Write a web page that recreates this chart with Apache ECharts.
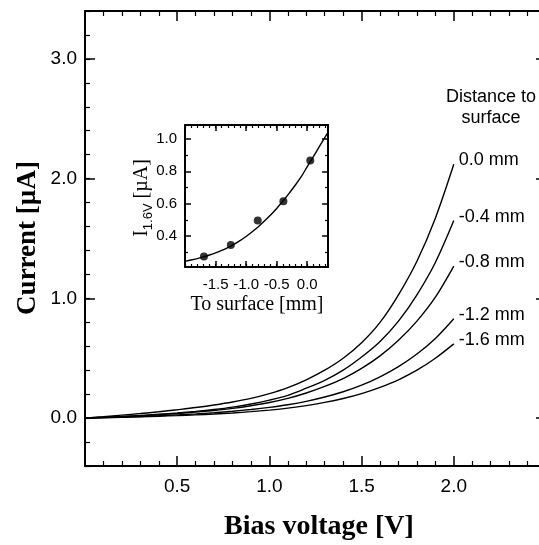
<!DOCTYPE html>
<html>
<head>
<meta charset="utf-8">
<script src="https://cdn.jsdelivr.net/npm/echarts@6/dist/echarts.min.js"></script>
<style>
html,body{margin:0;padding:0;background:#fff;}
#chart{width:539px;height:545px;}
</style>
</head>
<body>
<div id="chart"></div>
<script>
// ---- main plot data (current in µA vs bias voltage in V) ----
const voltage = [0,0.1,0.2,0.3,0.4,0.5,0.6,0.7,0.8,0.9,1.0,1.1,1.2,1.3,1.4,1.5,1.6,1.7,1.8,1.9,2.0];
const curve00 = [0,0.012,0.025,0.038,0.053,0.07,0.088,0.11,0.135,0.165,0.205,0.255,0.32,0.40,0.50,0.63,0.80,1.03,1.31,1.67,2.12];
const curve04 = [0,0.007,0.014,0.022,0.032,0.043,0.056,0.072,0.092,0.118,0.15,0.19,0.25,0.315,0.40,0.51,0.64,0.81,1.03,1.30,1.65];
const curve08 = [0,0.006,0.012,0.019,0.028,0.038,0.05,0.064,0.081,0.103,0.13,0.165,0.21,0.265,0.33,0.415,0.52,0.65,0.81,1.01,1.27];
const curve12 = [0,0.004,0.009,0.014,0.02,0.027,0.035,0.045,0.057,0.072,0.09,0.112,0.14,0.176,0.22,0.275,0.345,0.43,0.535,0.665,0.83];
const curve16 = [0,0.003,0.007,0.011,0.016,0.021,0.027,0.034,0.043,0.054,0.067,0.083,0.104,0.131,0.164,0.205,0.257,0.32,0.40,0.50,0.62];
const curveNames = ['0.0 mm','-0.4 mm','-0.8 mm','-1.2 mm','-1.6 mm'];
const mainYTicks = [0,1,2,3];

// ---- inset data (I at 1.6 V vs distance to surface) ----
const insetX = [-2.0,-1.9,-1.8,-1.7,-1.6,-1.5,-1.4,-1.3,-1.2,-1.1,-1.0,-0.9,-0.8,-0.7,-0.6,-0.5,-0.4,-0.3,-0.2,-0.1,0.0,0.1,0.2,0.3,0.34];
const insetFit = [0.245,0.253,0.262,0.272,0.284,0.297,0.312,0.33,0.35,0.373,0.398,0.427,0.458,0.493,0.53,0.571,0.615,0.662,0.712,0.765,0.828,0.89,0.953,1.015,1.04];
const dotX = [-1.69,-1.25,-0.81,-0.39,0.05];
const dotY = [0.274,0.345,0.496,0.615,0.866];
const insetXTicks = [-1.5,-1.0,-0.5,0.0];
const insetYMajor = [0.4,0.6,0.8,1.0];
const insetYMinor = [0.3,0.5,0.7,0.9];

const SANS = 'Liberation Sans, Arial, sans-serif';
const SERIF = 'Liberation Serif, Times New Roman, serif';
const BLK = '#000';
const lineSt = {color: BLK, width: 2};
const tickSt = {color: BLK, width: 1.5};

function zip(xs, ys){ return xs.map((x,i)=>[x, ys[i]]); }
const fmt1 = v => Number(v).toFixed(1);

const xAxes = [
  // main bottom
  {gridIndex:0, type:'value', position:'bottom', min:0, max:2.5, interval:0.5,
   axisLine:{show:true, onZero:false, lineStyle:lineSt},
   axisTick:{show:true, inside:true, length:10, lineStyle:tickSt},
   minorTick:{show:true, splitNumber:5, length:5, lineStyle:{color:BLK, width:1.2}},
   axisLabel:{show:true, formatter:fmt1, showMinLabel:false, showMaxLabel:false, fontSize:19, fontFamily:SANS, color:BLK, margin:11},
   splitLine:{show:false}, minorSplitLine:{show:false}},
  // main top
  {gridIndex:0, type:'value', position:'top', min:0, max:2.5, interval:0.5,
   axisLine:{show:true, onZero:false, lineStyle:lineSt},
   axisTick:{show:true, inside:true, length:10, lineStyle:tickSt},
   minorTick:{show:true, splitNumber:5, length:5, lineStyle:{color:BLK, width:1.2}},
   axisLabel:{show:false}, splitLine:{show:false}},
  // inset bottom majors + labels
  {gridIndex:1, type:'value', position:'bottom', min:-2.0, max:0.34,
   axisLine:{show:true, onZero:false, lineStyle:lineSt},
   axisTick:{show:true, inside:true, length:6, customValues:insetXTicks, lineStyle:tickSt},
   axisLabel:{show:true, customValues:insetXTicks, formatter:fmt1, fontSize:15, fontFamily:SANS, color:BLK, margin:10},
   splitLine:{show:false}},
  // inset bottom minors
  {gridIndex:1, type:'value', position:'bottom', min:-2.0, max:0.34, interval:0.1,
   axisLine:{show:false, onZero:false},
   axisTick:{show:true, inside:true, length:3, lineStyle:{color:BLK, width:1.2}},
   axisLabel:{show:false}, splitLine:{show:false}},
  // inset top majors
  {gridIndex:1, type:'value', position:'top', min:-2.0, max:0.34,
   axisLine:{show:true, onZero:false, lineStyle:lineSt},
   axisTick:{show:true, inside:true, length:6, customValues:insetXTicks, lineStyle:tickSt},
   axisLabel:{show:false}, splitLine:{show:false}},
  // inset top minors
  {gridIndex:1, type:'value', position:'top', min:-2.0, max:0.34, interval:0.1,
   axisLine:{show:false, onZero:false},
   axisTick:{show:true, inside:true, length:3, lineStyle:{color:BLK, width:1.2}},
   axisLabel:{show:false}, splitLine:{show:false}}
];

const yAxes = [
  // main left majors + labels
  {gridIndex:0, type:'value', position:'left', min:-0.4, max:3.4,
   axisLine:{show:true, onZero:false, lineStyle:lineSt},
   axisTick:{show:true, inside:true, length:10, customValues:mainYTicks, lineStyle:tickSt},
   axisLabel:{show:true, customValues:mainYTicks, formatter:fmt1, fontSize:19, fontFamily:SANS, color:BLK, margin:8},
   splitLine:{show:false}},
  // main left minors
  {gridIndex:0, type:'value', position:'left', min:-0.4, max:3.4, interval:0.2,
   axisLine:{show:false, onZero:false},
   axisTick:{show:true, inside:true, length:5, lineStyle:{color:BLK, width:1.2}},
   axisLabel:{show:false}, splitLine:{show:false}},
  // main right
  {gridIndex:0, type:'value', position:'right', min:-0.4, max:3.4,
   axisLine:{show:true, onZero:false, lineStyle:lineSt},
   axisTick:{show:true, inside:true, length:10, customValues:mainYTicks, lineStyle:tickSt},
   axisLabel:{show:false}, splitLine:{show:false}},
  // inset left majors + labels
  {gridIndex:1, type:'value', position:'left', min:0.21, max:1.085,
   axisLine:{show:true, onZero:false, lineStyle:lineSt},
   axisTick:{show:true, inside:true, length:6, customValues:insetYMajor, lineStyle:tickSt},
   axisLabel:{show:true, customValues:insetYMajor, formatter:fmt1, fontSize:15, fontFamily:SANS, color:BLK, margin:8},
   splitLine:{show:false}},
  // inset left minors
  {gridIndex:1, type:'value', position:'left', min:0.21, max:1.085,
   axisLine:{show:false, onZero:false},
   axisTick:{show:true, inside:true, length:3, customValues:insetYMinor, lineStyle:{color:BLK, width:1.2}},
   axisLabel:{show:false}, splitLine:{show:false}},
  // inset right majors
  {gridIndex:1, type:'value', position:'right', min:0.21, max:1.085,
   axisLine:{show:true, onZero:false, lineStyle:lineSt},
   axisTick:{show:true, inside:true, length:6, customValues:insetYMajor, lineStyle:tickSt},
   axisLabel:{show:false}, splitLine:{show:false}},
  // inset right minors
  {gridIndex:1, type:'value', position:'right', min:0.21, max:1.085,
   axisLine:{show:false, onZero:false},
   axisTick:{show:true, inside:true, length:3, customValues:insetYMinor, lineStyle:{color:BLK, width:1.2}},
   axisLabel:{show:false}, splitLine:{show:false}}
];

const curves = [curve00, curve04, curve08, curve12, curve16];
const series = curves.map((c, i) => ({
  type:'line', name: curveNames[i], xAxisIndex:0, yAxisIndex:0,
  data: zip(voltage, c), smooth:0.3, symbol:'none',
  lineStyle:{color:BLK, width:1.4}, z:3,
  endLabel:{show:true, formatter:curveNames[i], color:BLK, fontSize:18, fontFamily:SANS, distance:5, offset:[0,-4]}
}));
series.push({
  type:'line', name:'fit', xAxisIndex:2, yAxisIndex:3,
  data: zip(insetX, insetFit), smooth:0.3, symbol:'none',
  lineStyle:{color:BLK, width:1.4}, z:3
});
series.push({
  type:'scatter', name:'points', xAxisIndex:2, yAxisIndex:3,
  data: zip(dotX, dotY), symbol:'circle', symbolSize:8,
  itemStyle:{color:BLK}, z:4
});

const option = {
  animation:false,
  backgroundColor:'#fff',
  grid:[
    {left:85, top:11, width:461, height:455, containLabel:false, outerBoundsMode:'none'},
    {left:185, top:125, width:143, height:142, containLabel:false, outerBoundsMode:'none'}
  ],
  xAxis:xAxes,
  yAxis:yAxes,
  series:series,
  graphic:[
    {type:'text', x:28, y:238, rotation:Math.PI/2,
     style:{text:'Current [µA]', font:'bold 27px ' + SERIF, fill:BLK, textAlign:'center', textVerticalAlign:'middle'}},
    {type:'text', x:319, y:527,
     style:{text:'Bias voltage [V]', font:'bold 28px ' + SERIF, fill:BLK, textAlign:'center', textVerticalAlign:'middle'}},
    {type:'text', x:491, y:97,
     style:{text:'Distance to', font:'18px ' + SANS, fill:BLK, textAlign:'center', textVerticalAlign:'middle'}},
    {type:'text', x:491, y:118,
     style:{text:'surface', font:'18px ' + SANS, fill:BLK, textAlign:'center', textVerticalAlign:'middle'}},
    {type:'text', x:257, y:305,
     style:{text:'To surface [mm]', font:'20px ' + SERIF, fill:BLK, textAlign:'center', textVerticalAlign:'middle'}},
    {type:'text', x:140, y:198, rotation:Math.PI/2,
     style:{text:'{a|I}{b|1.6V}{a| [µA]}', fill:BLK, textAlign:'center', textVerticalAlign:'middle',
       rich:{a:{fontSize:20, fontFamily:SERIF, color:BLK, lineHeight:23, verticalAlign:'bottom'},
             b:{fontSize:13, fontFamily:SANS, color:BLK, lineHeight:23, verticalAlign:'bottom', padding:[0,0,-3,0]}}}}
  ]
};

const chart = echarts.init(document.getElementById('chart'), null, {renderer:'canvas'});
chart.setOption(option);
</script>
</body>
</html>
